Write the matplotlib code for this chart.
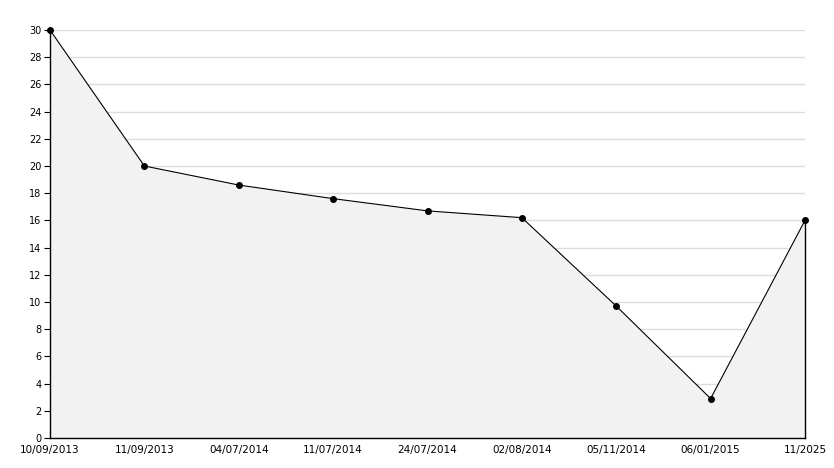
import matplotlib
matplotlib.use("Agg")
import matplotlib.pyplot as plt
from matplotlib.ticker import MultipleLocator

labels = ["10/09/2013", "11/09/2013", "04/07/2014", "11/07/2014", "24/07/2014",
          "02/08/2014", "05/11/2014", "06/01/2015", "11/2025"]
values = [30, 20, 18.6, 17.6, 16.7, 16.2, 9.7, 2.9, 16]

fig = plt.figure(figsize=(8.34, 4.68), dpi=100)
ax = fig.add_axes([50/834, 30/468, 755/834, 408/468])
x = list(range(len(values)))

ax.set_xlim(0, len(values) - 1)
ax.set_ylim(0, 30)
ax.yaxis.set_major_locator(MultipleLocator(2))
ax.yaxis.set_minor_locator(MultipleLocator(1))
ax.grid(axis="y", which="major", color="#dcdcdc", linewidth=1, zorder=0)
ax.fill_between(x, values, 0, color="#f2f2f2", zorder=1, linewidth=0)
ax.plot(x, values, color="black", linewidth=0.8, marker="o", markersize=4, zorder=3, clip_on=False)
ax.plot([x[-1], x[-1]], [0, values[-1]], color="black", linewidth=1, zorder=3, clip_on=False)

ax.set_xticks(x)
ax.set_xticklabels(labels)
for s in ["top", "right"]:
    ax.spines[s].set_visible(False)
for s in ["left", "bottom"]:
    ax.spines[s].set_linewidth(1)
    ax.spines[s].set_zorder(4)
ax.tick_params(axis="x", direction="in", length=5, labelsize=7.5, pad=5)
ax.tick_params(axis="y", which="major", direction="out", length=4, labelsize=7, pad=2)
ax.tick_params(axis="y", which="minor", direction="in", length=3)
ax.set_axisbelow(True)

fig.savefig("out.png", dpi=100)
